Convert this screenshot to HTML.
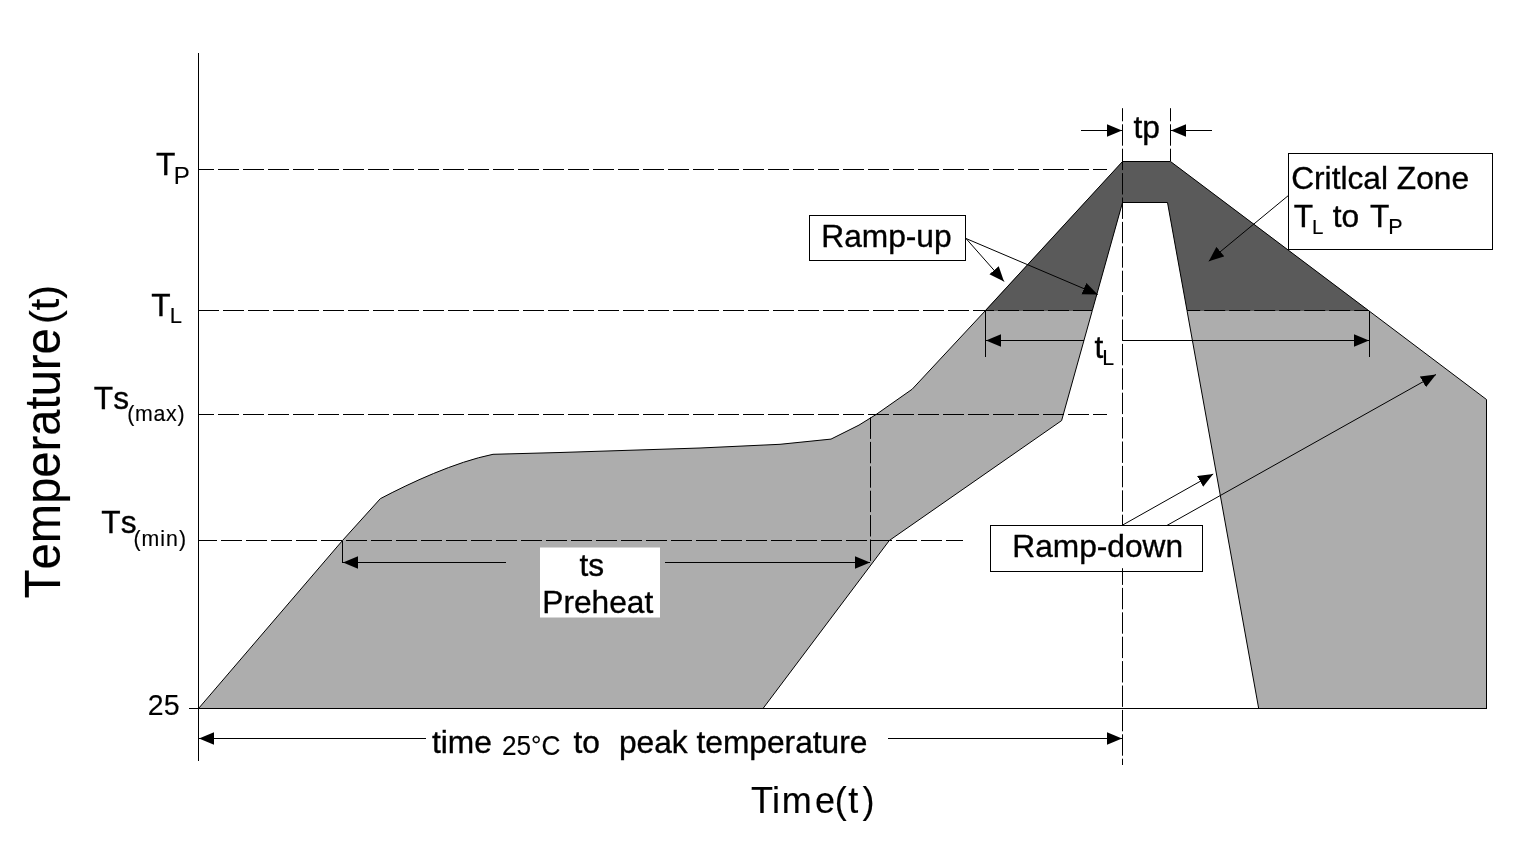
<!DOCTYPE html>
<html>
<head>
<meta charset="utf-8">
<title>Reflow Profile</title>
<style>
html,body{margin:0;padding:0;background:#fff;}
body{width:1533px;height:850px;overflow:hidden;}
svg{display:block;}
text{font-family:"Liberation Sans",sans-serif;fill:#000;stroke:#000;stroke-width:0.35;font-kerning:none;}
.ln{stroke:#000;stroke-width:1;fill:none;}
.dh{stroke:#000;stroke-width:1;fill:none;stroke-dasharray:21 4;stroke-dashoffset:6;}
.dv{stroke:#000;stroke-width:1;fill:none;stroke-dasharray:21.4 3;}
text.big{stroke-width:0.15;}
tspan.sub{stroke-width:0.15;}
.box{fill:#fff;stroke:#000;stroke-width:1;}
</style>
</head>
<body>
<svg width="1533" height="850" viewBox="0 0 1533 850">
<defs>
<marker id="ah" markerUnits="userSpaceOnUse" markerWidth="16" markerHeight="13" refX="15" refY="6.2" orient="auto-start-reverse">
<path d="M0,0 L15,6.2 L0,12.4 Z" fill="#000"/>
</marker>
</defs>
<rect x="0" y="0" width="1533" height="850" fill="#fff"/>

<!-- light gray band -->
<path d="M198.5,708.5 L342.5,540.5 L380.3,498.7 C410,483 455,462 493,454.3 L560,452.5 L700,448 L780,444.3 L831,439.1 L859,425.1 L876.4,414.3 L912.2,389.2 L985.5,310.5 L1122.5,161.5 L1170.5,161.5 L1368.5,310.5 L1486.5,399.5 L1486.5,708.5 L1258.7,708.5 L1187,310.5 L1167.5,202.5 L1122.5,202.5 L1092.3,310.5 L1061.6,420.6 L889.3,540.5 L763,708.5 Z" fill="#adadad"/>
<!-- dark critical zone -->
<path d="M984.6,311 L1122.5,161.5 L1170.5,161.5 L1369.2,311 L1187.1,311 L1167.5,202.5 L1122.5,202.5 L1092.1,311 Z" fill="#5a5a5a"/>
<!-- band outline -->
<path class="ln" d="M198.5,708.5 L342.5,540.5 L380.3,498.7 C410,483 455,462 493,454.3 L560,452.5 L700,448 L780,444.3 L831,439.1 L859,425.1 L876.4,414.3 L912.2,389.2 L985.5,310.5 L1122.5,161.5 L1170.5,161.5 L1368.5,310.5 L1486.5,399.5 L1486.5,708.5 L1258.7,708.5 L1187,310.5 L1167.5,202.5 L1122.5,202.5 L1092.3,310.5 L1061.6,420.6 L889.3,540.5 L763,708.5 Z" stroke-linejoin="miter"/>

<!-- axes -->
<line class="ln" x1="198.5" y1="53" x2="198.5" y2="761"/>
<line class="ln" x1="189" y1="708.5" x2="1487" y2="708.5"/>

<!-- horizontal dashed -->
<line class="dh" x1="199" y1="169.5" x2="1107" y2="169.5"/>
<line class="dh" x1="199" y1="310.5" x2="1092" y2="310.5" style="stroke-dashoffset:1"/>
<line class="dh" x1="1187" y1="310.5" x2="1369" y2="310.5" style="stroke-dashoffset:7.8"/>
<line class="dh" x1="199" y1="414.5" x2="1107" y2="414.5"/>
<line class="dh" x1="199" y1="540.5" x2="963" y2="540.5" style="stroke-dashoffset:3"/>

<!-- vertical dashed -->
<line class="dv" x1="870.5" y1="417.5" x2="870.5" y2="563"/>
<line class="dv" x1="1122.5" y1="108.2" x2="1122.5" y2="765" style="stroke-dashoffset:8.3"/>
<line class="dv" x1="1170.5" y1="108.2" x2="1170.5" y2="161" style="stroke-dashoffset:8.3"/>

<!-- tp arrows -->
<line class="ln" x1="1081" y1="130.5" x2="1122" y2="130.5" marker-end="url(#ah)"/>
<line class="ln" x1="1212" y1="130.5" x2="1171" y2="130.5" marker-end="url(#ah)"/>
<text id="t_tp" x="1133.5" y="138" font-size="31.7">tp</text>

<!-- tL arrows -->
<line class="ln" x1="985.5" y1="310" x2="985.5" y2="357"/>
<line class="ln" x1="1369.5" y1="311" x2="1369.5" y2="357"/>
<line class="ln" x1="1084" y1="340.5" x2="986" y2="340.5" marker-end="url(#ah)"/>
<line class="ln" x1="1122.5" y1="340.5" x2="1369" y2="340.5" marker-end="url(#ah)"/>
<text id="t_tl" x="1094.5" y="358" font-size="31.7">t<tspan class="sub" font-size="21.3" dy="7" dx="-1">L</tspan></text>

<!-- ts arrows -->
<line class="ln" x1="342.5" y1="540.8" x2="342.5" y2="563"/>
<line class="ln" x1="506" y1="562.5" x2="343" y2="562.5" marker-end="url(#ah)"/>
<line class="ln" x1="665" y1="562.5" x2="870" y2="562.5" marker-end="url(#ah)"/>
<rect x="540" y="547.5" width="120" height="70" fill="#fff"/>
<text id="t_ts" x="579.5" y="575.7" font-size="31.7">ts</text>
<text id="t_pre" x="542.3" y="613" font-size="31.7">Preheat</text>

<!-- bottom time arrow -->
<line class="ln" x1="426" y1="738.5" x2="199" y2="738.5" marker-end="url(#ah)"/>
<line class="ln" x1="888" y1="738.5" x2="1122" y2="738.5" marker-end="url(#ah)"/>
<text id="t_time" x="432" y="752.8" font-size="31.7">time</text>
<text id="t_25c" x="502" y="755" font-size="27.5" textLength="58.5" lengthAdjust="spacingAndGlyphs" style="stroke-width:0.15">25°C</text>
<text id="t_to" x="573.5" y="752.8" font-size="31.7">to</text>
<text id="t_peak" x="619" y="752.8" font-size="31.7">peak temperature</text>

<!-- Ramp-up -->
<line class="ln" x1="966" y1="238.5" x2="1004" y2="281.5" marker-end="url(#ah)"/>
<line class="ln" x1="966" y1="238.5" x2="1097.7" y2="294.5" marker-end="url(#ah)"/>
<rect class="box" x="809.5" y="215.5" width="156" height="45"/>
<text id="t_rup" x="821.3" y="246.8" font-size="31.7">Ramp-up</text>

<!-- Ramp-down -->
<line class="ln" x1="1122" y1="525.4" x2="1213.2" y2="474" marker-end="url(#ah)"/>
<line class="ln" x1="1167" y1="525.4" x2="1436" y2="374.5" marker-end="url(#ah)"/>
<rect class="box" x="990.5" y="525.5" width="212" height="46"/>
<line class="ln" x1="1122.5" y1="568.2" x2="1122.5" y2="571"/>
<text id="t_rdn" x="1012.3" y="557" font-size="31.7">Ramp-down</text>

<!-- Critical zone -->
<line class="ln" x1="1288.4" y1="195.5" x2="1208.8" y2="261.2" marker-end="url(#ah)"/>
<rect class="box" x="1288.5" y="153.5" width="204" height="96"/>
<text id="t_cz" x="1291.2" y="188.6" font-size="31.7">Critlcal Zone</text>
<text id="t_cz2" x="1293.7" y="227" font-size="31.7">T<tspan class="sub" font-size="20.5" dy="6.5" dx="-1">L</tspan><tspan dy="-6.5" dx="0.5"> to</tspan><tspan dx="2"> T</tspan><tspan class="sub" font-size="21.5" dy="6.5" dx="-1">P</tspan></text>

<!-- axis labels -->
<text id="t_TP" x="156" y="175" font-size="31.7">T<tspan class="sub" font-size="24" dy="9" dx="-1.5">P</tspan></text>
<text id="t_TL" x="151.3" y="316.2" font-size="31.7">T<tspan class="sub" font-size="22" dy="6.7" dx="-1">L</tspan></text>
<text id="t_max" x="93.8" y="408.8" font-size="31.7">Ts<tspan class="sub" font-size="21.3" dy="12" dx="-1.7" letter-spacing="0.7">(max)</tspan></text>
<text id="t_min" x="101.3" y="533.2" font-size="31.7">Ts<tspan class="sub" font-size="21.3" dy="12.3" dx="-3" letter-spacing="1">(min)</tspan></text>
<text id="t_25" style="stroke-width:0.12" x="147.8" y="714.7" font-size="29.5" textLength="31.7" lengthAdjust="spacingAndGlyphs">25</text>

<text id="t_temp" class="big" transform="translate(60.2,598.2) rotate(-90)" font-size="50.5" textLength="270" lengthAdjust="spacingAndGlyphs">Temperature</text>
<text id="t_temp2" class="big" transform="translate(58.6,324.1) rotate(-90)" font-size="41.5">(t)</text>
<text id="t_timet" class="big" x="751 771.9 781.7 814.9 834.8 848.2 862.5" y="813.3" font-size="36">Time(t)</text>
</svg>
</body>
</html>
